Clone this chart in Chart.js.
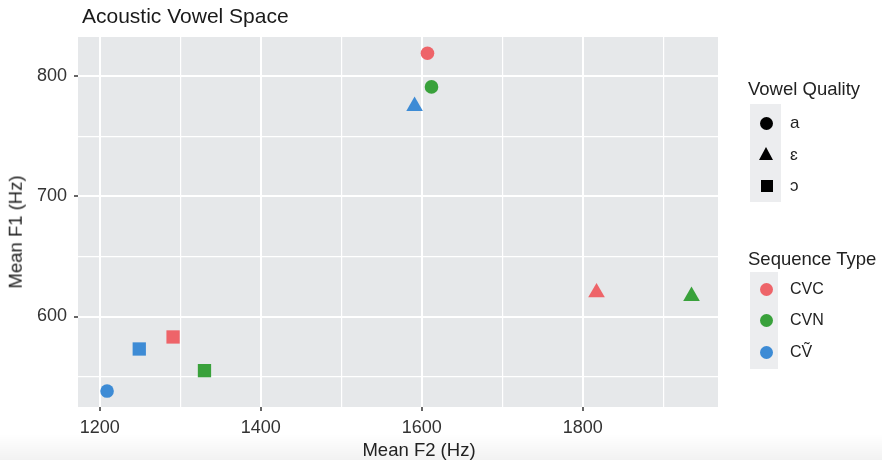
<!DOCTYPE html>
<html>
<head>
<meta charset="utf-8">
<script src="https://cdn.jsdelivr.net/npm/chart.js@4/dist/chart.umd.min.js"></script>
<style>
  html, body { margin: 0; padding: 0; background: #fff; }
  #wrap { position: relative; width: 882px; height: 462px; overflow: hidden;
          font-family: "Liberation Sans", Arial, sans-serif; color: #222; }
  #shade { position: absolute; left: 0; top: 434px; width: 882px; height: 26px;
           background: linear-gradient(to bottom, rgba(0,0,0,0), rgba(0,0,0,0.05)); }
  canvas { position: absolute; left: 0; top: 0; }
  .t { position: absolute; white-space: nowrap; line-height: 1; }
  .key { position: absolute; background: #ECEDEF; }
  .sym { position: absolute; }
</style>
</head>
<body>
<div id="wrap">
  <div id="shade"></div>
  <canvas id="c" width="882" height="462"></canvas>
  <div class="t" style="left:82px; top:5px; font-size:21px; color:#1a1a1a;">Acoustic Vowel Space</div>
  <div class="t" id="ytitle" style="left:16px; top:232px; font-size:18.5px; transform: translate(-50%,-50%) rotate(-90deg);">Mean F1 (Hz)</div>
  <div class="t" id="xtitle" style="left:419px; top:450px; font-size:18.5px; transform: translate(-50%,-50%);">Mean F2 (Hz)</div>
  <div id="legend"></div>
</div>
<script>
// ---- data ----
const vowels = ['a', 'ɛ', 'ɔ'];
const vowelShapes = ['circle', 'triangle', 'rect'];
const seqTypes = ['CVC', 'CVN', 'CṼ'];
const seqColors = ['#EE6469', '#39A13B', '#3D8BD5'];
// Mean F2 (x) and Mean F1 (y) per sequence type, ordered as vowels
const f2CVC = [1607, 1817, 1291];
const f1CVC = [819, 620, 583];
const f2CVN = [1612, 1935, 1330];
const f1CVN = [791, 617, 555];
const f2CVt = [1209, 1591, 1249];
const f1CVt = [538, 775, 573];
const xTickLabels = [1200, 1400, 1600, 1800];
const yTickLabels = [600, 700, 800];

const f2All = [f2CVC, f2CVN, f2CVt];
const f1All = [f1CVC, f1CVN, f1CVt];
const shapeRadius = { circle: 6.8, triangle: 9.6, rect: 9.4 };

const datasets = seqTypes.map((s, i) => ({
  label: s,
  data: vowels.map((v, j) => ({ x: f2All[i][j], y: f1All[i][j] })),
  pointStyle: vowelShapes,
  pointRadius: vowelShapes.map(p => shapeRadius[p]),
  pointHoverRadius: vowelShapes.map(p => shapeRadius[p]),
  backgroundColor: seqColors[i],
  borderColor: seqColors[i],
  borderWidth: 0,
  showLine: false
}));

const panelBg = {
  id: 'panelBg',
  beforeDraw(chart) {
    const { ctx, chartArea: a } = chart;
    ctx.save();
    ctx.fillStyle = '#E6E8EA';
    ctx.fillRect(a.left, a.top, a.right - a.left, a.bottom - a.top);
    ctx.restore();
  }
};

const isMajor = (v, list) => list.some(t => Math.abs(t - v) < 1e-6);
const tickFont = { family: '"Liberation Sans", Arial, sans-serif', size: 18 };
// grid every half major step (major + minor lines, as in ggplot)
function gridTicks(scale, step) {
  const out = [];
  for (let v = Math.ceil(scale.min / step) * step; v <= scale.max; v += step) out.push({ value: v });
  scale.ticks = out;
}

new Chart(document.getElementById('c'), {
  type: 'scatter',
  data: { datasets },
  plugins: [panelBg],
  options: {
    responsive: false,
    animation: false,
    events: [],
    layout: { padding: { top: 37, right: 164, left: 0, bottom: 0 } },
    plugins: { legend: { display: false }, tooltip: { enabled: false }, title: { display: false } },
    scales: {
      x: {
        type: 'linear', min: 1172.9, max: 1967.9,
        border: { display: false },
        afterBuildTicks: s => gridTicks(s, 100),
        afterFit(s) { s.height = 55; },
        ticks: {
          autoSkip: false, maxRotation: 0,
          padding: 6, color: '#333', font: tickFont,
          callback: v => isMajor(v, xTickLabels) ? String(v) : ''
        },
        grid: {
          color: '#FFFFFF',
          lineWidth: c => isMajor(c.tick.value, xTickLabels) ? 2 : 1.2,
          tickColor: c => isMajor(c.tick.value, xTickLabels) ? '#333' : 'rgba(0,0,0,0)',
          tickLength: 4, tickWidth: 1.5
        }
      },
      y: {
        type: 'linear', min: 524.75, max: 832.5,
        border: { display: false },
        afterBuildTicks: s => gridTicks(s, 50),
        afterFit(s) { s.width = 78; },
        ticks: {
          autoSkip: false,
          padding: 7, color: '#333', font: tickFont,
          callback: v => isMajor(v, yTickLabels) ? String(v) : ''
        },
        grid: {
          color: '#FFFFFF',
          lineWidth: c => isMajor(c.tick.value, yTickLabels) ? 2 : 1.2,
          tickColor: c => isMajor(c.tick.value, yTickLabels) ? '#333' : 'rgba(0,0,0,0)',
          tickLength: 4, tickWidth: 1.5
        }
      }
    }
  }
});

// ---- legend (HTML) ----
const lg = document.getElementById('legend');
function add(html) { lg.insertAdjacentHTML('beforeend', html); }
function symbol(shape, color, cx, cy) {
  if (shape === 'circle') {
    return `<div class="sym" style="left:${cx-6.5}px;top:${cy-6.5}px;width:13px;height:13px;border-radius:50%;background:${color}"></div>`;
  } else if (shape === 'triangle') {
    return `<div class="sym" style="left:${cx-7.5}px;top:${cy-8}px;width:0;height:0;border-left:7.5px solid transparent;border-right:7.5px solid transparent;border-bottom:13px solid ${color}"></div>`;
  }
  return `<div class="sym" style="left:${cx-6}px;top:${cy-6}px;width:12px;height:12px;background:${color}"></div>`;
}
// Vowel Quality
add(`<div class="t" style="left:748px;top:80px;font-size:18.5px;">Vowel Quality</div>`);
add(`<div class="key" style="left:750px;top:104px;width:31px;height:98px;"></div>`);
const vY = [123, 155, 186];
vowels.forEach((v, j) => {
  add(symbol(vowelShapes[j], '#000', 766.5, vY[j]));
  add(`<div class="t" style="left:790px;top:${vY[j]-9}px;font-size:17px;">${v}</div>`);
});
// Sequence Type
add(`<div class="t" style="left:748px;top:250px;font-size:18.5px;">Sequence Type</div>`);
add(`<div class="key" style="left:750px;top:272px;width:28px;height:97px;"></div>`);
const sY = [289, 320.5, 352];
seqTypes.forEach((s, i) => {
  add(symbol('circle', seqColors[i], 766.5, sY[i]));
  add(`<div class="t" style="left:790px;top:${sY[i]-8.5}px;font-size:16px;">${s}</div>`);
});
</script>
</body>
</html>
